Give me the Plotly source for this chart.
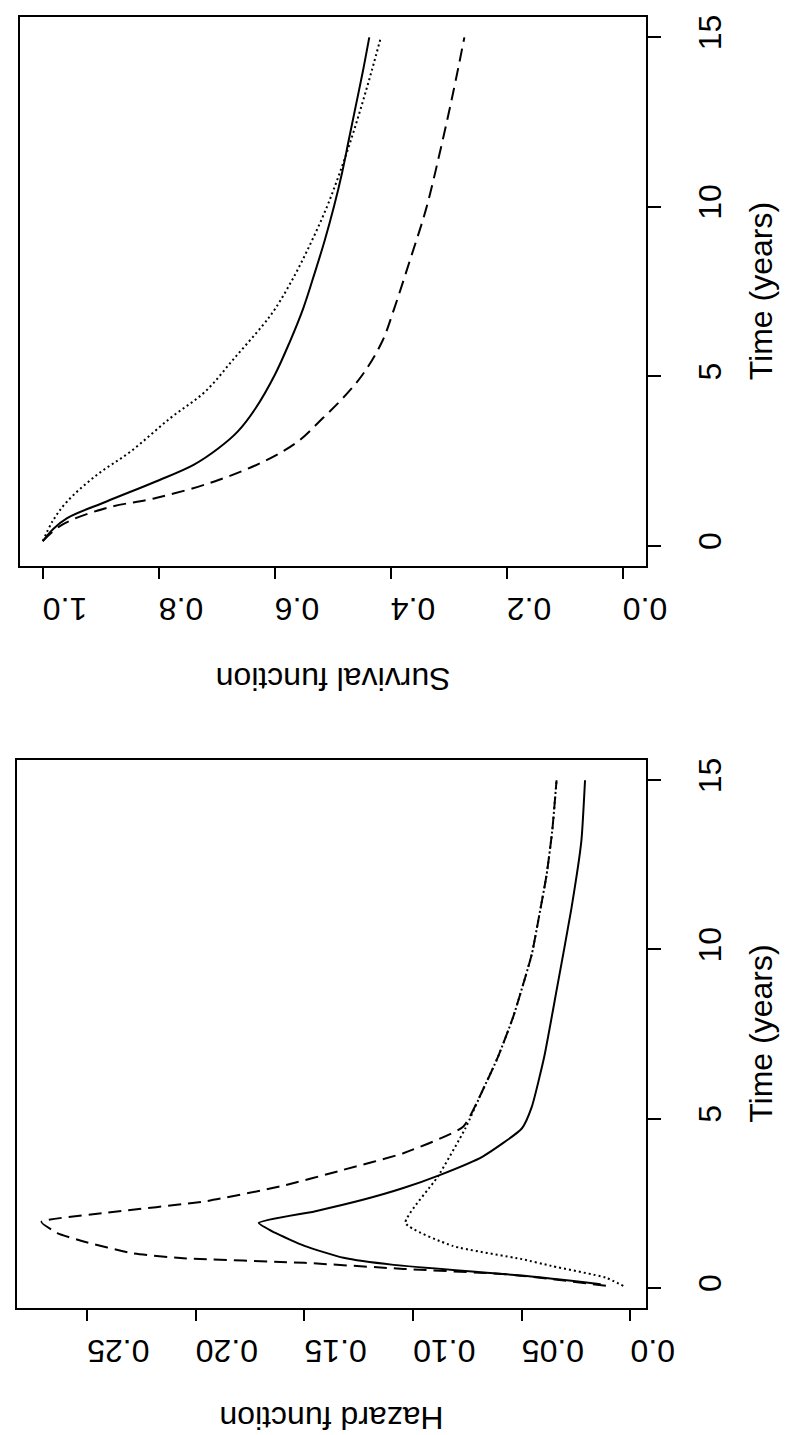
import plotly.graph_objects as go

# ---------------- data ----------------
# Hazard panel (bottom)
haz_t_dash = [0.06, 0.26, 0.41, 0.56, 0.74, 0.88, 1.03, 1.38, 1.62, 1.95, 2.22, 2.56, 3.0, 3.49, 3.98, 4.76, 5.84, 6.82, 8.0, 9.86, 11.0, 12.2, 13.5, 15.0]
haz_dash = [0.0113, 0.036, 0.059, 0.1045, 0.150, 0.207, 0.2296, 0.252, 0.2637, 0.271, 0.241, 0.1955, 0.161, 0.132, 0.1045, 0.077, 0.068, 0.061, 0.054, 0.0454, 0.042, 0.0386, 0.036, 0.034]

haz_t_solid = [0.11, 0.35, 0.68, 0.89, 1.24, 1.63, 1.92, 2.26, 2.61, 2.95, 3.34, 3.88, 4.71, 5.35, 6.82, 8.79, 11.2, 13.2, 15.0]
haz_solid = [0.0137, 0.0477, 0.109, 0.132, 0.150, 0.1636, 0.171, 0.1454, 0.1227, 0.1045, 0.0875, 0.068, 0.050, 0.0454, 0.0397, 0.034, 0.0272, 0.0226, 0.0209]

haz_t_dot = [0.06, 0.30, 0.65, 0.85, 1.24, 1.92, 3.29, 4.71, 5.84, 6.82, 8.0, 9.86, 11.0, 12.2, 13.5, 15.0]
haz_dot = [0.0033, 0.0113, 0.0364, 0.050, 0.0818, 0.1035, 0.0886, 0.076, 0.068, 0.061, 0.054, 0.0454, 0.042, 0.0386, 0.036, 0.034]

# Survival panel (top)
surv_t_solid = [0.14, 0.5, 0.82, 1.31, 1.9, 2.39, 2.88, 3.37, 4.06, 5.04, 6.02, 7.0, 8.0, 9.0, 10.0, 11.0, 12.0, 13.0, 14.0, 15.0]
surv_solid = [1.0, 0.982, 0.958, 0.89, 0.805, 0.740, 0.697, 0.664, 0.633, 0.600, 0.574, 0.551, 0.532, 0.514, 0.498, 0.484, 0.472, 0.460, 0.448, 0.437]

surv_t_dot = [0.14, 0.73, 1.31, 2.09, 2.79, 3.77, 4.55, 5.53, 6.5, 7.0, 8.0, 9.0, 10.0, 11.0, 12.0, 13.0, 14.0, 15.0]
surv_dot = [1.0, 0.983, 0.958, 0.907, 0.848, 0.78, 0.72, 0.67, 0.621, 0.599, 0.565, 0.536, 0.51, 0.488, 0.468, 0.45, 0.433, 0.417]

surv_t_dash = [0.14, 0.62, 1.12, 1.41, 1.9, 2.49, 3.08, 3.77, 4.35, 5.04, 6.02, 7.0, 8.47, 9.94, 11.7, 13.4, 15.0]
surv_dash = [1.0, 0.967, 0.89, 0.805, 0.704, 0.619, 0.56, 0.517, 0.483, 0.449, 0.415, 0.394, 0.366, 0.339, 0.314, 0.292, 0.273]

time_ticks = [0, 5, 10, 15]
time_labels = ["0", "5", "10", "15"]
haz_ticks = [0.0, 0.05, 0.10, 0.15, 0.20, 0.25]
haz_labels = ["0.0", "0.05", "0.10", "0.15", "0.20", "0.25"]
surv_ticks = [0.0, 0.2, 0.4, 0.6, 0.8, 1.0]
surv_labels = ["0.0", "0.2", "0.4", "0.6", "0.8", "1.0"]

time_title = "Time (years)"
haz_title = "Hazard function"
surv_title = "Survival function"

# ---------------- figure ----------------
W, H = 801, 1435
FONT = "Liberation Sans, Arial, Helvetica, sans-serif"
FS = 32
LW = 2

fig = go.Figure()

def add(x, y, dash, xa, ya, smooth):
    fig.add_trace(go.Scatter(x=x, y=y, mode="lines", xaxis=xa, yaxis=ya,
                             line=dict(color="black", width=LW, dash=dash,
                                       shape="spline", smoothing=smooth),
                             showlegend=False, hoverinfo="skip"))

add(haz_dash, haz_t_dash, "13px,7px", "x", "y", 0.5)
add(haz_solid, haz_t_solid, "solid", "x", "y", 0.5)
add(haz_dot, haz_t_dot, "2px,3px", "x", "y", 0.5)

add(surv_dash, surv_t_dash, "13px,7px", "x2", "y2", 1.0)
add(surv_solid, surv_t_solid, "solid", "x2", "y2", 1.0)
add(surv_dot, surv_t_dot, "2px,3px", "x2", "y2", 1.0)

# pixel geometry
bot_y0, bot_y1 = 751, 1300
top_y0, top_y1 = 7, 557
xr = 661
xl_bot, xl_top = 9, 12

def py(p):
    return 1 - p / H

common_time = dict(range=[-0.6, 15.6], side="right", showline=True, mirror=True,
                   linecolor="black", linewidth=LW, ticks="outside", ticklen=13,
                   tickwidth=LW, tickcolor="black", showgrid=False, zeroline=False,
                   tickangle=-90, tickvals=time_ticks, ticktext=time_labels,
                   tickfont=dict(family=FONT, size=FS, color="black"),
                   ticklabelstandoff=22)
common_val = dict(showline=True, mirror=True, linecolor="black", linewidth=LW,
                  ticks="outside", ticklen=11, tickwidth=LW, tickcolor="black",
                  showgrid=False, zeroline=False, tickangle=180,
                  tickfont=dict(family=FONT, size=FS, color="black"),
                  ticklabelstandoff=12)

fig.update_layout(
    width=W, height=H, margin=dict(l=0, r=0, t=0, b=0),
    paper_bgcolor="white", plot_bgcolor="white",
    font=dict(family=FONT, size=FS, color="black"),
    xaxis=dict(domain=[xl_bot / W, xr / W], range=[0.2824, -0.0071], anchor="y",
               tickvals=haz_ticks, ticktext=haz_labels, **common_val),
    yaxis=dict(domain=[py(bot_y1), py(bot_y0)], anchor="x", **common_time),
    xaxis2=dict(domain=[xl_top / W, xr / W], range=[1.04, -0.04], anchor="y2",
                tickvals=surv_ticks, ticktext=surv_labels, **common_val),
    yaxis2=dict(domain=[py(top_y1), py(top_y0)], anchor="x2", **common_time),
)

ann = [
    dict(text=haz_title, x=(xl_bot + xr) / 2 / W, y=py(1410), textangle=180),
    dict(text=surv_title, x=(xl_top + xr) / 2 / W, y=py(670), textangle=180),
    dict(text=time_title, x=780 / W, y=py((bot_y0 + bot_y1) / 2), textangle=-90),
    dict(text=time_title, x=780 / W, y=py((top_y0 + top_y1) / 2), textangle=-90),
]
for a in ann:
    fig.add_annotation(xref="paper", yref="paper", showarrow=False,
                       xanchor="center", yanchor="middle",
                       font=dict(family=FONT, size=FS, color="black"), **a)

fig.write_html("out.html")
